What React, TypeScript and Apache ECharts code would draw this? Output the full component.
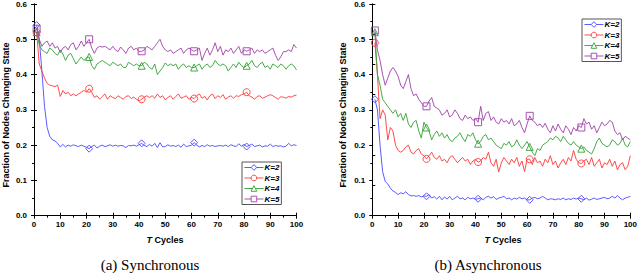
import React, { useEffect, useRef } from "react";
import * as echarts from "echarts";

const seriesNames = ["K=2", "K=3", "K=4", "K=5"];
const colors = ["#4848ff", "#ff3838", "#34a034", "#a040a8"];
const symbols = ["diamond", "circle", "triangle", "rect"];
const yTicks = [0, 0.1, 0.2, 0.3, 0.4, 0.5, 0.6];
const captions = ["(a) Synchronous", "(b) Asynchronous"];

const syncK2 = [
  0.54, 0.50, 0.41, 0.31, 0.25, 0.225, 0.215, 0.212, 0.205, 0.195,
  0.202, 0.195, 0.200, 0.197, 0.201, 0.198, 0.196, 0.200, 0.197, 0.194,
  0.190, 0.196, 0.200, 0.192, 0.197, 0.200, 0.196, 0.198, 0.201, 0.197,
  0.200, 0.197, 0.199, 0.198, 0.193, 0.199, 0.198, 0.200, 0.197, 0.201,
  0.205, 0.199, 0.196, 0.202, 0.197, 0.205, 0.193, 0.207, 0.195, 0.196,
  0.201, 0.197, 0.199, 0.196, 0.200, 0.194, 0.203, 0.196, 0.198, 0.200,
  0.207, 0.200, 0.195, 0.199, 0.196, 0.201, 0.197, 0.199, 0.196, 0.198,
  0.199, 0.197, 0.200, 0.196, 0.201, 0.198, 0.196, 0.204, 0.197, 0.202,
  0.196, 0.199, 0.203, 0.196, 0.198, 0.200, 0.195, 0.198, 0.197, 0.203,
  0.196, 0.199, 0.197, 0.198, 0.195, 0.197, 0.205, 0.198, 0.201, 0.199,
];
const syncK3 = [
  0.52, 0.43, 0.41, 0.39, 0.375, 0.37, 0.368, 0.366, 0.37, 0.338,
  0.355, 0.345, 0.35, 0.34, 0.345, 0.34, 0.345, 0.35, 0.355, 0.35,
  0.36, 0.35, 0.335, 0.34, 0.33, 0.338, 0.345, 0.33, 0.34, 0.335,
  0.332, 0.34, 0.335, 0.33, 0.338, 0.34, 0.332, 0.336, 0.33, 0.325,
  0.33, 0.336, 0.34, 0.335, 0.34, 0.333, 0.345, 0.335, 0.34, 0.328,
  0.335, 0.34, 0.33, 0.338, 0.345, 0.333, 0.336, 0.34, 0.33, 0.335,
  0.332, 0.34, 0.345, 0.333, 0.338, 0.328, 0.34, 0.345, 0.332, 0.34,
  0.335, 0.343, 0.33, 0.336, 0.34, 0.333, 0.34, 0.338, 0.343, 0.345,
  0.35, 0.34, 0.336, 0.33, 0.338, 0.34, 0.333, 0.336, 0.34, 0.343,
  0.34, 0.335, 0.33, 0.337, 0.336, 0.333, 0.338, 0.336, 0.34, 0.342,
];
const syncK4 = [
  0.52, 0.485, 0.47, 0.465, 0.46, 0.475, 0.47, 0.46, 0.455, 0.47,
  0.458, 0.44, 0.455, 0.46, 0.445, 0.43, 0.44, 0.45, 0.44, 0.447,
  0.45, 0.425, 0.415, 0.43, 0.435, 0.44, 0.435, 0.43, 0.425, 0.435,
  0.43, 0.425, 0.43, 0.42, 0.42, 0.435, 0.43, 0.425, 0.43, 0.425,
  0.425, 0.435, 0.43, 0.42, 0.415, 0.43, 0.40, 0.41, 0.42, 0.433,
  0.425, 0.43, 0.425, 0.43, 0.415, 0.425, 0.43, 0.42, 0.425, 0.42,
  0.42, 0.425, 0.43, 0.415, 0.425, 0.43, 0.42, 0.425, 0.44, 0.43,
  0.425, 0.43, 0.425, 0.41, 0.42, 0.43, 0.42, 0.435, 0.425, 0.42,
  0.425, 0.43, 0.44, 0.425, 0.42, 0.43, 0.435, 0.42, 0.425, 0.415,
  0.43, 0.425, 0.42, 0.43, 0.425, 0.415, 0.425, 0.43, 0.425, 0.413,
];
const syncK5 = [
  0.53, 0.50, 0.48, 0.49, 0.495, 0.48, 0.49, 0.475, 0.48, 0.462,
  0.475, 0.48, 0.47, 0.485, 0.49, 0.47, 0.48, 0.495, 0.48, 0.49,
  0.50, 0.475, 0.46, 0.475, 0.48, 0.478, 0.48, 0.475, 0.47, 0.48,
  0.47, 0.465, 0.478, 0.47, 0.46, 0.475, 0.48, 0.47, 0.475, 0.465,
  0.466, 0.47, 0.48, 0.475, 0.47, 0.48, 0.49, 0.50, 0.48, 0.47,
  0.465, 0.47, 0.46, 0.465, 0.47, 0.475, 0.46, 0.47, 0.475, 0.47,
  0.466, 0.47, 0.475, 0.44, 0.46, 0.475, 0.455, 0.47, 0.49, 0.465,
  0.48, 0.455, 0.47, 0.465, 0.475, 0.46, 0.47, 0.48, 0.46, 0.47,
  0.466, 0.47, 0.475, 0.46, 0.47, 0.465, 0.47, 0.46, 0.465, 0.47,
  0.475, 0.455, 0.44, 0.45, 0.465, 0.465, 0.47, 0.465, 0.485, 0.475,
];

const asyncK2 = [
  0.33, 0.30, 0.20, 0.125, 0.097, 0.09, 0.078, 0.07, 0.066, 0.06,
  0.065, 0.062, 0.068, 0.06, 0.056, 0.057, 0.055, 0.057, 0.053, 0.056,
  0.055, 0.06, 0.05, 0.054, 0.047, 0.055, 0.045, 0.053, 0.047, 0.055,
  0.045, 0.05, 0.055, 0.048, 0.05, 0.045, 0.052, 0.048, 0.05, 0.047,
  0.048, 0.05, 0.045, 0.052, 0.055, 0.05, 0.054, 0.046, 0.05, 0.052,
  0.055, 0.048, 0.05, 0.045, 0.05, 0.047, 0.052, 0.048, 0.05, 0.045,
  0.045, 0.05, 0.052, 0.048, 0.05, 0.055, 0.05, 0.045, 0.048, 0.047,
  0.045, 0.048, 0.046, 0.05, 0.045, 0.048, 0.046, 0.05, 0.047, 0.05,
  0.048, 0.045, 0.05, 0.044, 0.047, 0.05, 0.046, 0.048, 0.05, 0.052,
  0.048, 0.05, 0.055, 0.05, 0.057, 0.05, 0.045, 0.05, 0.052, 0.055,
];
const asyncK3 = [
  0.49, 0.40, 0.275, 0.30, 0.285, 0.215, 0.25, 0.24, 0.20, 0.185,
  0.18, 0.185, 0.195, 0.20, 0.18, 0.175, 0.185, 0.19, 0.175, 0.17,
  0.161, 0.17, 0.18, 0.165, 0.16, 0.17, 0.155, 0.16, 0.15, 0.165,
  0.17, 0.16, 0.15, 0.158, 0.165, 0.155, 0.16, 0.145, 0.155, 0.16,
  0.152, 0.155, 0.165, 0.16, 0.18, 0.15, 0.14, 0.16, 0.124, 0.15,
  0.165, 0.155, 0.145, 0.16, 0.15, 0.165, 0.14, 0.155, 0.125, 0.16,
  0.16, 0.145, 0.165, 0.15, 0.155, 0.14, 0.16, 0.15, 0.17, 0.145,
  0.155, 0.135, 0.15, 0.16, 0.145, 0.165, 0.155, 0.185, 0.16, 0.15,
  0.148, 0.155, 0.16, 0.145, 0.165, 0.14, 0.15, 0.16, 0.135, 0.15,
  0.145, 0.16, 0.14, 0.155, 0.13, 0.145, 0.15, 0.13, 0.14, 0.17,
];
const asyncK4 = [
  0.52, 0.40, 0.37, 0.33, 0.32, 0.31, 0.30, 0.29, 0.30, 0.28,
  0.29, 0.27, 0.29, 0.26, 0.25, 0.265, 0.27, 0.24, 0.22, 0.265,
  0.25, 0.24, 0.215, 0.23, 0.24, 0.225, 0.235, 0.22, 0.23, 0.215,
  0.21, 0.22, 0.225, 0.235, 0.22, 0.21, 0.23, 0.225, 0.235, 0.215,
  0.204, 0.21, 0.225, 0.23, 0.215, 0.22, 0.21, 0.20, 0.195, 0.19,
  0.205, 0.20, 0.21, 0.195, 0.20, 0.215, 0.20, 0.19, 0.20, 0.21,
  0.195, 0.18, 0.17, 0.19, 0.185, 0.20, 0.205, 0.21, 0.22, 0.215,
  0.225, 0.22, 0.21, 0.225, 0.215, 0.205, 0.20, 0.21, 0.20, 0.195,
  0.19, 0.195, 0.185, 0.18, 0.175, 0.19, 0.21, 0.22, 0.205, 0.20,
  0.195, 0.20, 0.215, 0.21, 0.20, 0.205, 0.22, 0.20, 0.195, 0.21,
];
const asyncK5 = [
  0.525, 0.47, 0.44, 0.40, 0.37, 0.39, 0.41, 0.42, 0.41, 0.395,
  0.37, 0.36, 0.38, 0.40, 0.36, 0.34, 0.345, 0.33, 0.32, 0.31,
  0.31, 0.325, 0.335, 0.31, 0.305, 0.30, 0.285, 0.29, 0.30, 0.28,
  0.285, 0.30, 0.29, 0.275, 0.27, 0.285, 0.275, 0.28, 0.27, 0.275,
  0.265, 0.31, 0.27, 0.29, 0.295, 0.27, 0.28, 0.265, 0.26, 0.275,
  0.265, 0.27, 0.26, 0.275, 0.255, 0.26, 0.27, 0.25, 0.235, 0.26,
  0.283, 0.27, 0.265, 0.255, 0.26, 0.25, 0.262, 0.245, 0.235, 0.255,
  0.24, 0.26, 0.245, 0.235, 0.255, 0.245, 0.23, 0.25, 0.24, 0.255,
  0.25, 0.275, 0.26, 0.265, 0.245, 0.255, 0.235, 0.25, 0.265, 0.255,
  0.26, 0.27, 0.265, 0.24, 0.23, 0.235, 0.215, 0.225, 0.22, 0.215,
];

const syncData = [syncK2, syncK3, syncK4, syncK5];
const asyncData = [asyncK2, asyncK3, asyncK4, asyncK5];

const FONT = "Liberation Sans";

function makeSeries(data: number[][], gridIdx: number) {
  return data.map((vals, k) => ({
    name: seriesNames[k],
    type: "line",
    xAxisIndex: gridIdx * 2,
    yAxisIndex: gridIdx * 2,
    data: vals.map((v, i) => [i + 1, v]),
    symbol: symbols[k],
    symbolSize: (_v: any, p: any) => (p.dataIndex % 20 === 0 ? 7 : 0),
    showAllSymbol: true,
    lineStyle: { color: colors[k], width: 0.9 },
    itemStyle: { color: "rgba(255,255,255,0)", borderColor: colors[k], borderWidth: 0.9 },
    emphasis: { disabled: true },
  }));
}

function xAxes(gridIdx: number) {
  return [
    {
      type: "value",
      gridIndex: gridIdx,
      min: 0,
      max: 100,
      interval: 10,
      axisLine: { lineStyle: { color: "#000", width: 1 } },
      axisTick: { show: true, length: 3, lineStyle: { color: "#000" } },
      minorTick: { show: true, splitNumber: 2, length: 2, lineStyle: { color: "#000" } },
      splitLine: { show: false },
      axisLabel: { fontSize: 8, fontWeight: "bold", fontFamily: FONT, color: "#000", margin: 5 },
    },
    {
      type: "value",
      gridIndex: gridIdx,
      position: "top",
      min: 0,
      max: 100,
      interval: 10,
      axisLine: { lineStyle: { color: "#000", width: 1 } },
      axisTick: { show: true, length: 3, lineStyle: { color: "#000" } },
      splitLine: { show: false },
      axisLabel: { show: false },
    },
  ];
}

function yAxes(gridIdx: number, rightMax: number) {
  return [
    {
      type: "value",
      gridIndex: gridIdx,
      min: yTicks[0],
      max: yTicks[yTicks.length - 1],
      interval: 0.1,
      axisLine: { show: true, lineStyle: { color: "#000", width: 1 } },
      axisTick: { show: true, length: 3, lineStyle: { color: "#000" } },
      minorTick: { show: true, splitNumber: 2, length: 2, lineStyle: { color: "#000" } },
      splitLine: { show: false },
      axisLabel: {
        fontSize: 8,
        fontWeight: "bold",
        fontFamily: FONT,
        color: "#000",
        margin: 7,
        formatter: (v: number) => v.toFixed(1),
      },
    },
    {
      type: "value",
      gridIndex: gridIdx,
      position: "right",
      min: 0,
      max: rightMax,
      interval: 0.1,
      axisLine: { show: true, lineStyle: { color: "#000", width: 1 } },
      axisTick: { show: true, length: 3, lineStyle: { color: "#000" } },
      splitLine: { show: false },
      axisLabel: { show: false },
    },
  ];
}

function legend(left: number, top: number) {
  return {
    left,
    top,
    orient: "vertical",
    data: seriesNames.map((name, k) => ({
      name,
      itemStyle: { color: "#fff", borderColor: colors[k], borderWidth: 0.9 },
      lineStyle: { color: colors[k], width: 0.9 },
    })),
    itemWidth: 19,
    itemHeight: 7,
    itemGap: 2.5,
    padding: [1.5, 2, 1.5, 2],
    borderColor: "#555",
    borderWidth: 1,
    backgroundColor: "#fff",
    selectedMode: false,
    textStyle: {
      fontSize: 8,
      fontWeight: "bold",
      fontStyle: "italic",
      fontFamily: FONT,
      color: "#000",
      padding: [0, 0, 0, -4],
    },
  };
}

export default function App() {
  const ref = useRef<HTMLDivElement>(null);
  useEffect(() => {
    if (!ref.current) return;
    const chart = echarts.init(ref.current, undefined, { renderer: "svg" });
    const yName = "Fraction of Nodes Changing State";
    const labelText = (x: number, y: number, rot: number, text: string) => ({
      type: "text",
      x,
      y,
      rotation: rot,
      style: {
        text,
        font: `bold 9px "${FONT}"`,
        fill: "#000",
        align: "center",
        verticalAlign: "middle",
        rich: { i: { fontStyle: "italic", fontWeight: "bold", fontSize: 9, fontFamily: FONT } },
      },
    });
    chart.setOption({
      animation: false,
      backgroundColor: "#fff",
      grid: [
        { left: 34, top: 2.5, width: 262.5, height: 213.2 },
        { left: 372.3, top: 2.5, width: 261.7, height: 213.2 },
      ],
      xAxis: [...xAxes(0), ...xAxes(1)],
      yAxis: [...yAxes(0, 0.6), ...yAxes(1, 0.7)],
      legend: [legend(242, 162), legend(582, 19)],
      series: [...makeSeries(syncData, 0), ...makeSeries(asyncData, 1)],
      graphic: [
        labelText(6, 115, Math.PI / 2, yName),
        labelText(343, 115, Math.PI / 2, yName),
        labelText(165, 240, 0, "{i|T} Cycles"),
        labelText(503, 240, 0, "{i|T} Cycles"),
        {
          type: "text",
          x: 150,
          y: 265,
          style: {
            text: captions[0],
            font: `15px "Liberation Serif"`,
            fill: "#000",
            align: "center",
            verticalAlign: "middle",
          },
        },
        {
          type: "text",
          x: 488,
          y: 265,
          style: {
            text: captions[1],
            font: `15px "Liberation Serif"`,
            fill: "#000",
            align: "center",
            verticalAlign: "middle",
          },
        },
      ],
    });
    return () => chart.dispose();
  }, []);
  return (
    <div
      ref={ref}
      style={{ width: 640, height: 274, position: "absolute", left: 0, top: 0 }}
    />
  );
}
